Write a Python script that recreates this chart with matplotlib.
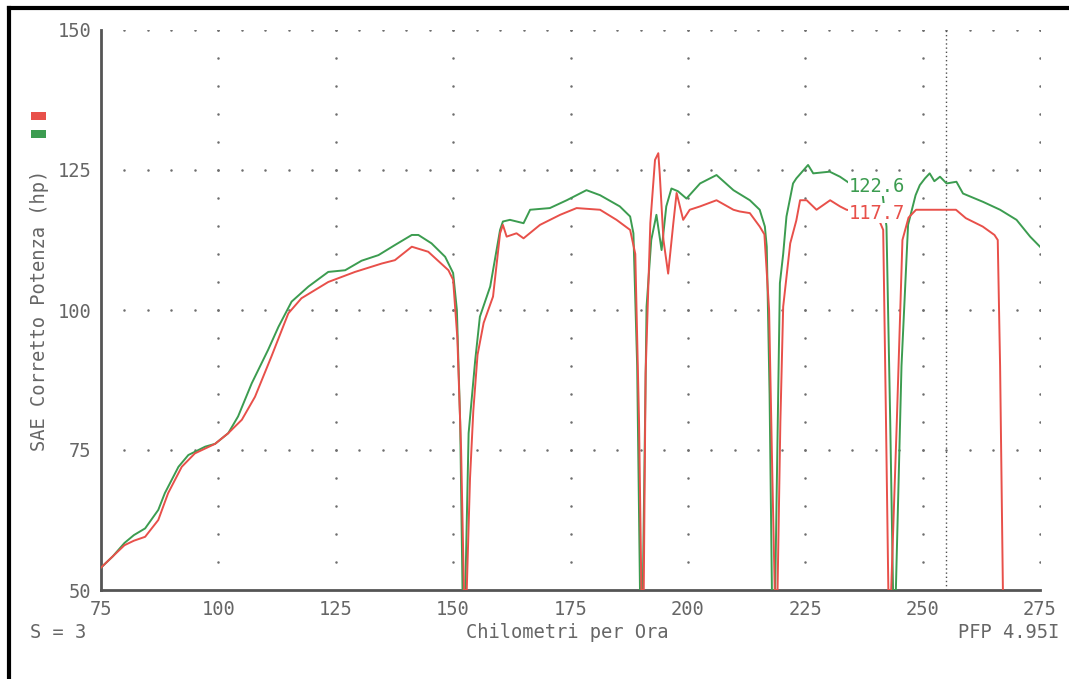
import numpy as np
import matplotlib.pyplot as plt
from matplotlib.lines import Line2D
from matplotlib.patches import Rectangle

# speed (km/h) / corrected power (hp)
green_x = [75, 77.5, 80, 82, 84.4, 87.2, 88.6, 91.5, 93.6, 97.2, 99.3, 102.1, 104.2, 107.1,
           110.6, 112.8, 115.6, 119.2, 123.4, 127, 130.5, 134.1, 137.6, 141.2, 142.6, 145.4,
           148.3, 150, 150.8, 151.5, 152.0, 152.6, 153.3, 154.7, 155.7, 157.9, 160, 160.6,
           162.1, 165, 166.4, 170.6, 174.2, 178.4, 181.3, 185.5, 187.7, 188.4, 189.2, 189.8,
           190.4, 191.2, 192.2, 193.3, 194.4, 195.4, 196.5, 197.9, 199.7, 202.6, 206.1, 209.7,
           213.2, 215.3, 216.4, 216.8, 217.4, 217.9, 218.6, 219.6, 220.3, 221, 222.4, 223.1,
           225.6, 226.7, 230.2, 232.4, 234.5, 238, 241.5, 242.3, 243.1, 243.7, 244.3, 245.5,
           246.9, 248.5, 249.4, 250.5, 251.5, 252.5, 253.7, 255.1, 257.2, 258.6, 262.9, 266.5,
           270, 272.9, 275]
green_y = [54.0, 56, 58.4, 59.8, 61, 64.3, 67.3, 72, 74.1, 75.6, 76.1, 78, 81, 86.9,
           92.9, 97, 101.5, 104.2, 106.8, 107.1, 108.8, 109.8, 111.6, 113.4, 113.4, 111.9,
           109.5, 106.6, 100, 80, 50, 50, 78, 91, 98.8, 104.2, 114.3, 115.8,
           116.1, 115.5, 117.9, 118.2, 119.6, 121.4, 120.5, 118.5, 116.7, 113.7, 90, 50,
           50, 100.6, 112.5, 117, 110.7, 118.5, 121.7, 121.2, 119.9, 122.6, 124.1, 121.4,
           119.6, 117.9, 114.9, 111.3, 85, 50, 50, 104.8, 110, 116.7, 122.6, 123.5,
           125.9, 124.4, 124.7, 123.8, 122.6, 121.8, 120.5, 114.9, 80, 50, 50, 90,
           115.2, 120.5, 122.3, 123.5, 124.4, 123, 123.8, 122.6, 122.9, 120.8, 119.3, 117.9,
           116.1, 113.1, 111.3]

red_x = [75, 77.5, 80, 82, 84.4, 87.2, 89.3, 92.2, 95, 99.3, 102.1, 105, 107.8, 111.3,
         114.9, 117.7, 123.4, 129.1, 134.8, 137.6, 141.2, 144.7, 149, 150, 150.9, 151.7,
         152.3, 152.9, 153.6, 154.3, 155.2, 156.5, 158.5, 160, 160.6, 161.4, 163.5, 165,
         168.5, 172.8, 176.3, 181.3, 184.8, 187.7, 188.8, 189.6, 190.1, 190.6, 191.0, 192,
         193, 193.7, 194, 194.8, 195.8, 196.9, 197.6, 199, 200.4, 202.6, 206.1, 209.7,
         211, 213.2, 215.3, 216.3, 217.3, 218, 218.5, 219.1, 219.7, 220.3, 221.8, 223.1,
         223.9, 225.3, 227.4, 230.3, 232.4, 233.8, 237, 240.5, 241.6, 242.2, 242.7, 243.3,
         244.5, 245.7, 247, 248.6, 254.3, 257.1, 259.2, 262.8, 265.3, 266, 266.5, 267.1]
red_y = [54.0, 56, 58, 58.8, 59.5, 62.5, 67.3, 72, 74.4, 76.1, 78, 80.4, 84.5, 91.7,
         99.4, 102.1, 105, 106.8, 108.3, 108.9, 111.3, 110.4, 107.1, 105.4, 95, 75,
         50, 50, 70, 82, 92, 97.7, 102.4, 113.7, 115.2, 113.1, 113.7, 112.8,
         115.2, 117, 118.2, 117.9, 116.1, 114.3, 110, 80, 50, 50, 88.7, 115.5,
         126.8, 128, 124.4, 112.5, 106.5, 115.5, 120.9, 116.1, 117.9, 118.5, 119.6, 117.9,
         117.6, 117.3, 114.9, 113.5, 100, 70, 50, 50, 80, 100.6, 111.9, 116,
         119.6, 119.6, 117.9, 119.6, 118.5, 117.9, 117.5, 116.5, 114.3, 80, 50, 50,
         80, 112.5, 116.5, 117.9, 117.9, 117.9, 116.4, 114.9, 113.4, 112.5, 90, 50]

x_ticks = [75, 100, 125, 150, 175, 200, 225, 250, 275]
y_ticks = [50, 75, 100, 125, 150]
cursor_x = 255
green_val = '122.6'
red_val = '117.7'

GREEN = '#3c9c50'
RED = '#e8504a'
TXT = '#666666'
W, H = 1069, 679

fig = plt.figure(figsize=(W / 100, H / 100), dpi=100)
ax = fig.add_axes([101 / W, 1 - 590 / H, 939 / W, 560 / H])
font = {'family': 'DejaVu Sans Mono', 'size': 13.5, 'color': TXT}

# dotted grid: rows at the y ticks, columns at the x ticks
gx = np.arange(80, 276, 5)
for yt in y_ticks[1:]:
    ax.plot(gx, np.full(len(gx), yt), ls='none', marker='o', ms=1.8, mew=0,
            color='#6e6e6e', zorder=1)
gy = np.arange(55, 151, 5)
for xt in x_ticks[1:]:
    ax.plot(np.full(len(gy), xt), gy, ls='none', marker='o', ms=1.8, mew=0,
            color='#6e6e6e', zorder=1)

ax.axvline(cursor_x, color='#505050', lw=1.0, ls=(0, (1, 2)), zorder=1)

ax.plot(green_x, green_y, color=GREEN, lw=1.4, zorder=3)
ax.plot(red_x, red_y, color=RED, lw=1.4, zorder=3)

ax.text(234.2, 122.1, green_val, ha='left', va='center', zorder=5,
        bbox=dict(facecolor='white', edgecolor='none', pad=0.5), **{**font, 'color': GREEN})
ax.text(234.2, 117.3, red_val, ha='left', va='center', zorder=5,
        bbox=dict(facecolor='white', edgecolor='none', pad=0.5), **{**font, 'color': RED})

ax.set_xlim(75, 275)
ax.set_ylim(50, 150)
ax.set_xticks(x_ticks)
ax.set_yticks(y_ticks)
ax.tick_params(length=0, pad=7, labelcolor=TXT, labelsize=13.5)
for lab in ax.get_xticklabels() + ax.get_yticklabels():
    lab.set_family('DejaVu Sans Mono')
for s in ['top', 'right']:
    ax.spines[s].set_visible(False)
for s in ['left', 'bottom']:
    ax.spines[s].set_color('#555555')
    ax.spines[s].set_linewidth(2)
ax.set_ylabel('SAE Corretto Potenza (hp)', labelpad=6, fontdict=font)

fig.text(567 / W, 1 - 632 / H, 'Chilometri per Ora', ha='center', va='center', fontdict=font)
fig.text(30 / W, 1 - 632 / H, 'S = 3', ha='left', va='center', fontdict=font)
fig.text(958 / W, 1 - 632 / H, 'PFP 4.95I', ha='left', va='center', fontdict=font)

# legend swatches
fig.add_artist(Rectangle((31 / W, 1 - 120 / H), 15 / W, 8 / H, transform=fig.transFigure,
                         facecolor=RED, edgecolor='none'))
fig.add_artist(Rectangle((31 / W, 1 - 138 / H), 15 / W, 8 / H, transform=fig.transFigure,
                         facecolor=GREEN, edgecolor='none'))

# frame of the scanned sheet
fig.add_artist(Line2D([9 / W, 9 / W], [0, 1 - 8 / H], transform=fig.transFigure, color='black', lw=3))
fig.add_artist(Line2D([9 / W, 1], [1 - 8 / H, 1 - 8 / H], transform=fig.transFigure, color='black', lw=3))

fig.savefig('out.png', dpi=100)
